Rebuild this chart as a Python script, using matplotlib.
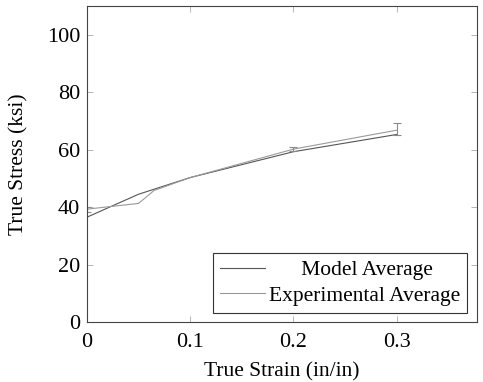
import matplotlib.pyplot as plt

plt.rcParams['font.family'] = ['Liberation Serif', 'DejaVu Serif']

# Model average curve
model_strain = [0.0, 0.0, 0.05, 0.1, 0.2, 0.3]
model_stress = [0.0, 36.5, 44.5, 50.3, 59.3, 65.3]

# Experimental average curve
exp_strain = [0.0, 0.0, 0.05, 0.065, 0.1, 0.2, 0.3]
exp_stress = [0.0, 39.3, 41.3, 45.8, 50.3, 60.2, 66.8]

# error bars on the experimental points
err_strain = [0.0, 0.2, 0.3]
err_stress = [39.3, 60.2, 67.2]
err_size = [0.9, 0.8, 2.2]

fig = plt.figure(figsize=(4.83, 3.82), dpi=100)
ax = fig.add_axes([0.180, 0.157, 0.808, 0.827])

ax.plot(model_strain, model_stress, color='#555555', lw=0.8, label='Model Average')
ax.plot(exp_strain, exp_stress, color='#9a9a9a', lw=0.8, label='Experimental Average')
ax.errorbar(err_strain, err_stress, yerr=err_size, fmt='none', ecolor='#8a8a8a',
            elinewidth=0.8, capsize=3, capthick=0.8)

ax.set_xlim(0, 0.378)
ax.set_ylim(0, 110)
ax.set_xticks([0, 0.1, 0.2, 0.3])
ax.set_xticklabels(['0', '0.1', '0.2', '0.3'])
ax.set_yticks([0, 20, 40, 60, 80, 100])
ax.tick_params(direction='in', length=4, width=0.5, color='#999999',
               top=True, right=True, labelsize=16)
ax.tick_params(axis='x', pad=8)
ax.tick_params(axis='y', pad=5)
for s in ax.spines.values():
    s.set_linewidth(0.8)
    s.set_color('#444444')

ax.set_xlabel('True Strain (in/in)', fontsize=15.5, labelpad=7)
ax.set_ylabel('True Stress (ksi)', fontsize=15.5, labelpad=13)

leg = ax.legend(loc='lower right', fontsize=15.5, frameon=True, fancybox=False,
                edgecolor='#333333', framealpha=1, handlelength=2.1,
                borderpad=0.35, labelspacing=0.25, handletextpad=0.15,
                borderaxespad=0, bbox_to_anchor=(0.975, 0.028))
leg.get_frame().set_linewidth(0.8)

# centre the shorter label within the legend column, as in the original
fig.canvas.draw()
r = fig.canvas.get_renderer()
texts = leg.get_texts()
w0 = texts[0].get_window_extent(r).width
w1 = texts[1].get_window_extent(r).width
texts[0].set_text(' ')
sp = texts[0].get_window_extent(r).width
texts[0].set_text(' ' * int(round((w1 - w0) / 2 / sp)) + 'Model Average')

fig.savefig('out.png', dpi=100)
